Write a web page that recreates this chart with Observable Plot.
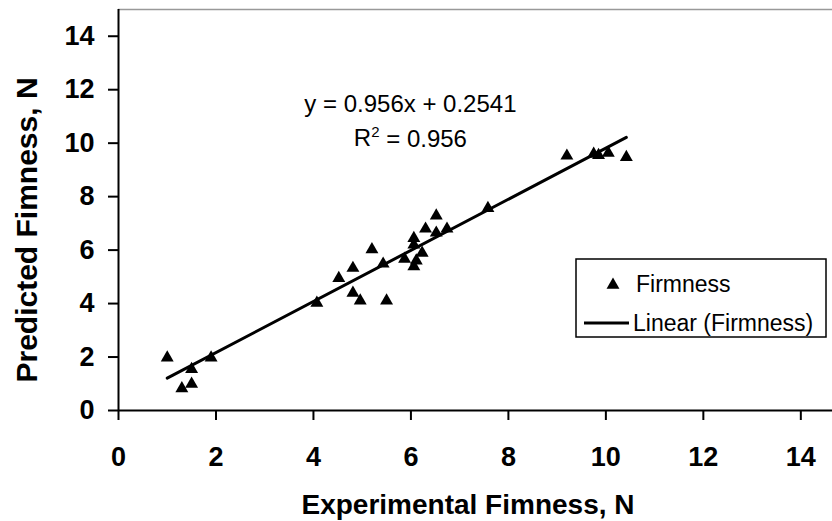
<!DOCTYPE html>
<html><head><meta charset="utf-8">
<script src="https://cdn.jsdelivr.net/npm/d3@7"></script>
<script src="https://cdn.jsdelivr.net/npm/@observablehq/plot@0.6"></script>
<style>
body{margin:0;background:#fff;}
#chart{position:relative;width:832px;height:521px;font-family:"Liberation Sans",Arial,sans-serif;}
#chart svg{font-family:"Liberation Sans",Arial,sans-serif;overflow:visible;}
</style></head><body><div id="chart"></div>
<script>
// Experimental vs predicted firmness (N)
const experimental = [1.0, 1.3, 1.5, 1.5, 1.9, 4.07, 4.52, 4.81, 4.81, 4.96, 5.2, 5.43, 5.5, 5.87, 6.06, 6.06, 6.06, 6.11, 6.23, 6.3, 6.52, 6.52, 6.74, 7.58, 9.2, 9.75, 9.85, 10.05, 10.42];
const predicted    = [2.05, 0.9, 1.07, 1.62, 2.05, 4.1, 5.02, 5.4, 4.47, 4.18, 6.1, 5.56, 4.18, 5.74, 6.52, 6.27, 5.46, 5.68, 5.97, 6.87, 7.36, 6.72, 6.87, 7.64, 9.6, 9.67, 9.62, 9.71, 9.55];
const slope = 0.956;
const intercept = 0.2541;
const xTicks = [0, 2, 4, 6, 8, 10, 12, 14];
const yTicks = [0, 2, 4, 6, 8, 10, 12, 14];
const xLabel = "Experimental Fimness, N";
const yLabel = "Predicted Fimness, N";
const equationText = "y = 0.956x + 0.2541";
const r2Text = ["R", "2", " = 0.956"];
const legendLabels = ["Firmness", "Linear (Firmness)"];

const points = experimental.map((x, i) => ({x, y: predicted[i]}));
const xExt = d3.extent(experimental);
const fit = xExt.map(x => ({x, y: slope * x + intercept}));

const plot = Plot.plot({
  width: 832, height: 521,
  marginLeft: 118, marginRight: 0, marginTop: 9, marginBottom: 111,
  x: {domain: [0, 14.65]},
  y: {domain: [0, 15]},
  style: {fontFamily: '"Liberation Sans", Arial, sans-serif', color: "#000", background: "#fff"},
  marks: [
    Plot.ruleY([15], {stroke: "#999", strokeWidth: 1.5}),
    Plot.axisX({ticks: xTicks, tickSize: 10, tickPadding: 26, fontSize: 27, fontWeight: "bold", strokeWidth: 2, label: null, tickFormat: d => d}),
    Plot.axisY({ticks: yTicks, tickSize: 10, tickPadding: 14, fontSize: 27, fontWeight: "bold", strokeWidth: 2, label: null, tickFormat: d => d}),
    Plot.ruleX([0], {stroke: "#000", strokeWidth: 2}),
    Plot.ruleY([0], {stroke: "#000", strokeWidth: 2}),
    Plot.line(fit, {x: "x", y: "y", stroke: "#000", strokeWidth: 3}),
    Plot.dot(points, {x: "x", y: "y", symbol: "triangle", r: 4.8, fill: "#000", stroke: "none", dy: 2})
  ]
});
document.getElementById("chart").appendChild(plot);

const svg = d3.select(plot);
const sx = plot.scale("x"), sy = plot.scale("y");

// axis titles
svg.append("text").attr("x", 468).attr("y", 514).attr("text-anchor", "middle")
  .attr("font-size", 28).attr("font-weight", "bold").attr("fill", "#000").text(xLabel);
svg.append("text").attr("transform", "translate(37,230) rotate(-90)").attr("text-anchor", "middle")
  .attr("font-size", 30).attr("font-weight", "bold").attr("fill", "#000").text(yLabel);

// regression equation
const eqX = sx.apply(6.0);
svg.append("text").attr("x", eqX).attr("y", sy.apply(11.46)).attr("dy", "0.35em").attr("text-anchor", "middle")
  .attr("font-size", 24).attr("fill", "#000").text(equationText);
const r2 = svg.append("text").attr("x", eqX).attr("y", sy.apply(10.2)).attr("dy", "0.35em").attr("text-anchor", "middle")
  .attr("font-size", 24).attr("fill", "#000");
r2.append("tspan").text(r2Text[0]);
r2.append("tspan").attr("font-size", 15).attr("dy", "-0.6em").text(r2Text[1]);
r2.append("tspan").attr("dy", "0.42em").text(r2Text[2]);

// legend
const lg = svg.append("g").attr("text-anchor", "start");
lg.append("rect").attr("x", 576).attr("y", 259).attr("width", 250).attr("height", 78)
  .attr("fill", "#fff").attr("stroke", "#000").attr("stroke-width", 1.5);
lg.append("path").attr("d", d3.symbol(d3.symbolTriangle, Math.PI * 4.8 * 4.8)()).attr("transform", "translate(613,285)").attr("fill", "#000");
lg.append("text").attr("x", 636).attr("y", 284).attr("dy", "0.35em").attr("text-anchor", "start").attr("font-size", 23).attr("fill", "#000").text(legendLabels[0]);
lg.append("line").attr("x1", 584).attr("x2", 629).attr("y1", 323).attr("y2", 323).attr("stroke", "#000").attr("stroke-width", 3);
lg.append("text").attr("x", 633).attr("y", 323).attr("dy", "0.35em").attr("text-anchor", "start").attr("font-size", 23).attr("fill", "#000").text(legendLabels[1]);
</script>
</body></html>
